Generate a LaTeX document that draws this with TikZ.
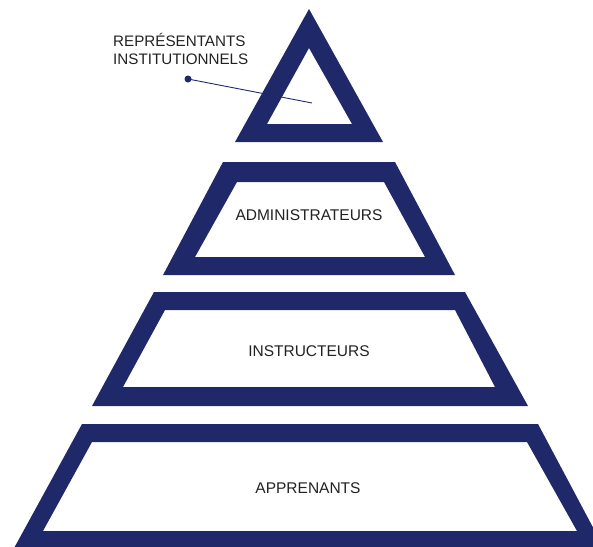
\documentclass[tikz,border=0pt]{standalone}
\usepackage{fontspec}
\setmainfont{Liberation Sans}
\definecolor{navy}{HTML}{1F2868}
\definecolor{txt}{HTML}{222222}
\begin{document}
\begin{tikzpicture}[x=1pt,y=-1pt,
  tier/.style={fill=navy,even odd rule},
  lbl/.style={font=\fontsize{15.5}{18}\selectfont,text=txt,inner sep=0pt},
  toplbl/.style={font=\fontsize{15.2}{18}\selectfont,text=txt,inner sep=0pt,align=left}]
\useasboundingbox (0,0) rectangle (593,546);
\clip (0,0) rectangle (593,546);
% apex triangle
\fill[tier] (309,9) -- (383,142) -- (235,142) -- cycle
            (309,48) -- (352,124) -- (267,124) -- cycle;
% tier 2
\fill[tier] (223,162) -- (395,162) -- (455,275) -- (163,275) -- cycle
            (237,182) -- (384,182) -- (425,257) -- (195,257) -- cycle;
% tier 3
\fill[tier] (154,292) -- (465,292) -- (528,406) -- (92,406) -- cycle
            (165,310) -- (455,310) -- (495,387) -- (123,387) -- cycle;
% tier 4
\fill[tier] (82,424) -- (538,424) -- (605,550) -- (13,550) -- cycle
            (92,442) -- (527,442) -- (577,531) -- (43,531) -- cycle;
% labels
\node[toplbl, anchor=north west] (rep) at (113,33) {REPRÉSENTANTS\\INSTITUTIONNELS};
\node[lbl] (adm) at (309,215) {ADMINISTRATEURS};
\node[lbl] (ins) at (309,351) {INSTRUCTEURS};
\node[lbl] (app) at (308,488) {APPRENANTS};
% leader line
\coordinate (dot) at (188,79);
\coordinate (tip) at (312,103);
\draw[navy, line width=0.9pt] (dot) -- (tip);
\fill[navy] (dot) circle (3.5);
\end{tikzpicture}
\end{document}
